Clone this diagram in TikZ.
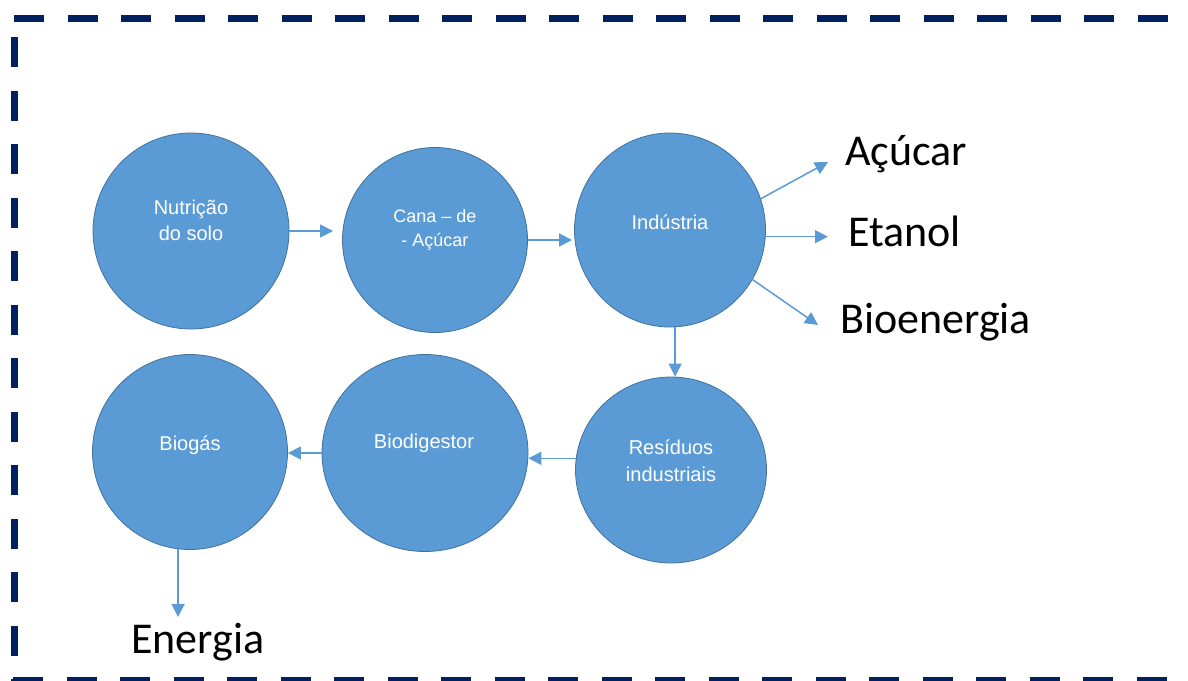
\documentclass[tikz,border=0pt]{standalone}
\usepackage{fontspec}
\setmainfont{Liberation Sans}
\newfontfamily\calib{Carlito}
\usetikzlibrary{arrows.meta,shapes.geometric}
\definecolor{navy}{HTML}{002060}
\definecolor{bubfill}{HTML}{5B9BD5}
\definecolor{bubedge}{HTML}{41719C}
\definecolor{arrcol}{HTML}{5B9BD5}
\begin{document}
\begin{tikzpicture}[x=1pt,y=-1pt,
  bub/.style={ellipse,draw=bubedge,line width=0.8pt,fill=bubfill,inner sep=0pt},
  btxt/.style={text=white,font=\fontsize{20}{26}\selectfont,align=center,inner sep=0pt},
  arr/.style={draw=arrcol,line width=1.5pt,-{Triangle[length=13pt,width=13pt]}},
  outl/.style={font=\calib\fontsize{44}{50}\selectfont,text=black,inner sep=0pt,anchor=base west},
  border/.style={draw=navy,line width=7pt,dash pattern=on 30pt off 23.5pt}]
\useasboundingbox (0,0) rectangle (1188,680);
\begin{scope}
\clip (0,0) rectangle (1188,680);
\draw[border] (14,18.5) -- (1220,18.5);
\draw[border] (14,37) -- (14,700);
\draw[border] (13,680.5) -- (1220,680.5);
\end{scope}
% circles
\node[bub,minimum width=196pt,minimum height=196pt] (nut) at (191,231) {};
\node[bub,minimum width=185pt,minimum height=185pt] (cana) at (435,240) {};
\node[bub,minimum width=191pt,minimum height=194pt] (ind) at (670,230) {};
\node[bub,minimum width=191pt,minimum height=186pt] (res) at (671,470) {};
\node[bub,minimum width=206pt,minimum height=197pt] (bio) at (425,453) {};
\node[bub,minimum width=195pt,minimum height=195pt] (biog) at (190,452) {};
% circle texts
\node[btxt] (tnut) at (191,220.5) {Nutrição\\do solo};
\node[btxt,font=\fontsize{18}{24}\selectfont] (tcana) at (435,230) {Cana – de\\- Açúcar};
\node[btxt] (tind) at (670,222) {Indústria};
\node[btxt,font=\fontsize{20}{27}\selectfont] (tres) at (671,460.5) {Resíduos\\industriais};
\node[btxt] (tbio) at (424,443) {Biodigestor};
\node[btxt] (tbiog) at (190,445) {Biogás};
% outside labels
\node[outl] (acu) at (845,165) {Açúcar};
\node[outl] (eta) at (848,246) {Etanol};
\node[outl] (boe) at (840,333) {Bioenergia};
\node[outl] (ene) at (131,653) {Energia};
\coordinate (acuend) at (828,162);
\coordinate (etaend) at (828,237);
\coordinate (boeend) at (818,325);
\coordinate (eneend) at (178,617);
% connectors
\draw[arr,shorten >=9pt] (nut.east) -- (nut.east -| cana.west);
\draw[arr,shorten >=2pt] (cana.east) -- (cana.east -| ind.west);
\draw[arr] (ind.19) -- (acuend);
\draw[arr] (ind.-4) -- (ind.-4 -| etaend);
\draw[arr] (ind.-31) -- (boeend);
\draw[arr] (ind.-87) -- (ind.-87 |- res.north);
\draw[arr] (res.173) -- (res.173 -| bio.east);
\draw[arr] (bio.west) -- (bio.west -| biog.east);
\draw[arr] (biog.-97) -- (biog.-97 |- eneend);
\end{tikzpicture}
\end{document}
